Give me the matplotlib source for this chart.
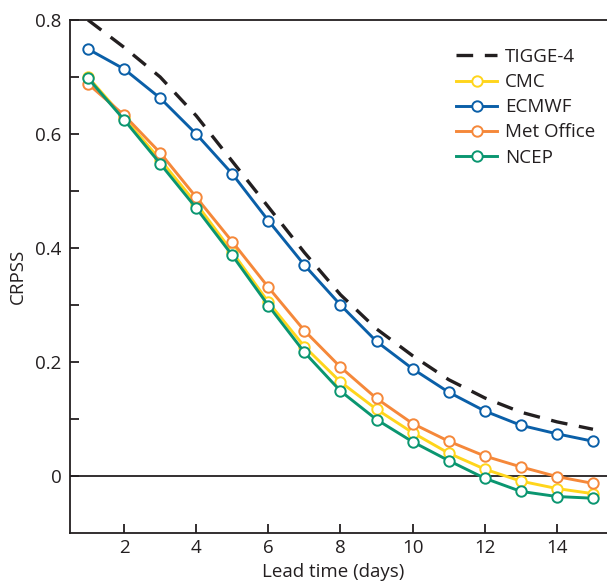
import matplotlib
matplotlib.use("Agg")
import matplotlib.pyplot as plt
import numpy as np

plt.rcParams["font.family"] = ["Open Sans", "DejaVu Sans"]

# lead time (days)
lead_days = list(range(1, 16))

# CRPSS per model
tigge4 = [0.800, 0.752, 0.700, 0.632, 0.552, 0.472, 0.392, 0.318,
          0.258, 0.211, 0.169, 0.137, 0.112, 0.095, 0.082]
cmc = [0.700, 0.628, 0.555, 0.478, 0.393, 0.305, 0.227, 0.165,
       0.117, 0.076, 0.040, 0.012, -0.009, -0.022, -0.031]
ecmwf = [0.749, 0.714, 0.663, 0.600, 0.530, 0.448, 0.370, 0.300,
         0.236, 0.188, 0.147, 0.114, 0.089, 0.074, 0.061]
met_office = [0.688, 0.633, 0.567, 0.489, 0.411, 0.331, 0.255, 0.191,
              0.136, 0.092, 0.061, 0.035, 0.016, -0.001, -0.013]
ncep = [0.698, 0.625, 0.548, 0.470, 0.387, 0.299, 0.217, 0.149,
        0.099, 0.060, 0.027, -0.004, -0.027, -0.036, -0.039]

series = [
    ("CMC", cmc, "#ffd51c"),
    ("ECMWF", ecmwf, "#0a5fa8"),
    ("Met Office", met_office, "#f5883a"),
    ("NCEP", ncep, "#0a9670"),
]

FS = 13.5
INK = "#231f20"

fig = plt.figure(figsize=(6.07, 5.83), dpi=100)
ax = fig.add_axes([70 / 607, 50 / 583, 541 / 607, 513 / 583])

ax.axhline(0, color=INK, lw=1.3, zorder=1)

ax.plot(lead_days, tigge4, color=INK, lw=2.4, ls=(0, (5, 3.5)),
        label="TIGGE-4", zorder=2)
for name, vals, color in series:
    ax.plot(lead_days, vals, color=color, lw=2.1, marker="o", ms=7.5,
            mfc="white", mec=color, mew=1.4, label=name, zorder=3)

ax.set_xlim(0.5, 15.5)
ax.set_ylim(-0.1, 0.8)
ax.set_xticks([2, 4, 6, 8, 10, 12, 14])
ax.set_yticks([0, 0.2, 0.4, 0.6, 0.8])
ax.set_yticklabels(["0", "0.2", "0.4", "0.6", "0.8"])
ax.set_yticks([0.1, 0.3, 0.5, 0.7], minor=True)
ax.tick_params(axis="both", which="both", direction="in", length=6.5,
               width=1.3, color=INK, labelsize=FS, labelcolor=INK)
ax.tick_params(axis="y", pad=6)
ax.tick_params(axis="x", pad=4)

for side in ("left", "bottom", "top"):
    ax.spines[side].set_linewidth(1.3)
    ax.spines[side].set_color(INK)
ax.spines["right"].set_visible(False)

ax.set_xlabel("Lead time (days)", fontsize=FS, color=INK, labelpad=3)
ax.xaxis.set_label_coords(0.486, -0.058)
ax.set_ylabel("CRPSS", fontsize=FS, color=INK, labelpad=6)

leg = ax.legend(loc="upper left", bbox_to_anchor=(0.70, 0.96), frameon=False,
                fontsize=FS, handlelength=2.2, handletextpad=0.4,
                labelspacing=0.38, borderaxespad=0)
for t in leg.get_texts():
    t.set_color(INK)

fig.savefig("out.png", dpi=100)
